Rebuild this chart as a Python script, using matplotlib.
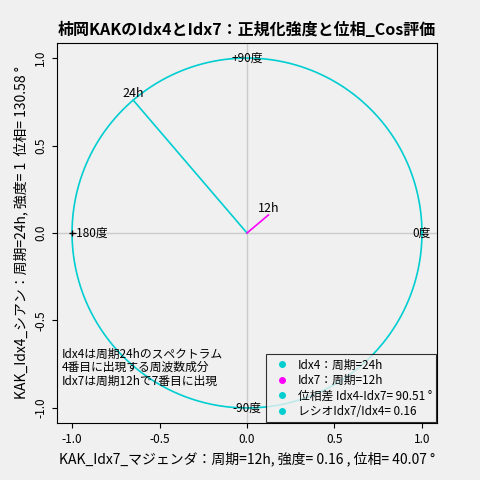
import numpy as np
import matplotlib
matplotlib.use("Agg")
import matplotlib.pyplot as plt
plt.rcParams['font.family'] = ['Noto Sans CJK JP', 'DejaVu Sans']

amp4 = 1.0
phase4 = 130.58
amp7 = 0.16
phase7 = 40.07
labels = ["24h", "12h"]
dir_labels = ["+90度", "-90度", "0度", "-180度"]
legend_texts = ["Idx4：周期=24h", "Idx7：周期=12h", "位相差 Idx4-Idx7= 90.51 °", "レシオIdx7/Idx4= 0.16"]
legend_colors = ["#00CED1", "#FF00FF", "#00CED1", "#00CED1"]

fig = plt.figure(figsize=(4.8, 4.8), dpi=100, facecolor="#f0f0f0")
ax = fig.add_axes([57/480, 57/480, 380/480, 380/480], facecolor="#f0f0f0")
lim = 1.086
ax.set_xlim(-lim, lim); ax.set_ylim(-lim, lim)
ax.axhline(0, color="#cccccc", lw=1); ax.axvline(0, color="#cccccc", lw=1)
t = np.linspace(0, 2*np.pi, 400)
ax.plot(np.cos(t), np.sin(t), color="#00CED1", lw=1.2)
x4, y4 = amp4*np.cos(np.radians(phase4)), amp4*np.sin(np.radians(phase4))
x7, y7 = amp7*np.cos(np.radians(phase7)), amp7*np.sin(np.radians(phase7))
ax.plot([0, x4], [0, y4], color="#00CED1", lw=1.2)
ax.plot([0, x7], [0, y7], color="#FF00FF", lw=1.2)
ax.text(x4, y4, labels[0], fontsize=9, ha="center", va="bottom")
ax.text(x7, y7, labels[1], fontsize=9, ha="center", va="bottom")
ax.text(0, 1.0, dir_labels[0], fontsize=8.5, ha="center", va="center")
ax.text(0, -1.0, dir_labels[1], fontsize=8.5, ha="center", va="center")
ax.text(1.0, 0, dir_labels[2], fontsize=8.5, ha="center", va="center")
ax.plot([-1.0], [0], marker="+", color="black", ms=5)
ax.text(-1.0, 0, dir_labels[3], fontsize=8.5, ha="left", va="center")
ax.text(-1.06, -0.77, "Idx4は周期24hのスペクトラム\n4番目に出現する周波数成分\nIdx7は周期12hで7番目に出現",
        fontsize=8.5, ha="left", va="center", linespacing=1.05)
ticks = [-1.0, -0.5, 0.0, 0.5, 1.0]
ax.set_xticks(ticks); ax.set_yticks(ticks)
ax.set_xticklabels([f"{v:.1f}" for v in ticks], fontsize=8.5)
ax.set_yticklabels([f"{v:.1f}" for v in ticks], fontsize=8.5, rotation=90, va="center")
ax.set_xlabel("KAK_Idx7_マジェンダ：周期=12h, 強度= 0.16 , 位相= 40.07 °", fontsize=10)
ax.set_ylabel("KAK_Idx4_シアン：周期=24h, 強度= 1  位相= 130.58 °", fontsize=10)
ax.set_title("柿岡KAKのIdx4とIdx7：正規化強度と位相_Cos評価", fontsize=11.5, fontweight="bold")
handles = [plt.Line2D([], [], ls="", marker="o", ms=4, color=c) for c in legend_colors]
leg = ax.legend(handles, legend_texts, loc="lower right", fontsize=8.5, frameon=True,
                fancybox=False, edgecolor="black", facecolor="#f0f0f0",
                handletextpad=0.3, borderpad=0.4, labelspacing=0.2,
                borderaxespad=0.05)
leg.get_frame().set_linewidth(0.8)
fig.savefig("out.png", dpi=100, facecolor=fig.get_facecolor())
